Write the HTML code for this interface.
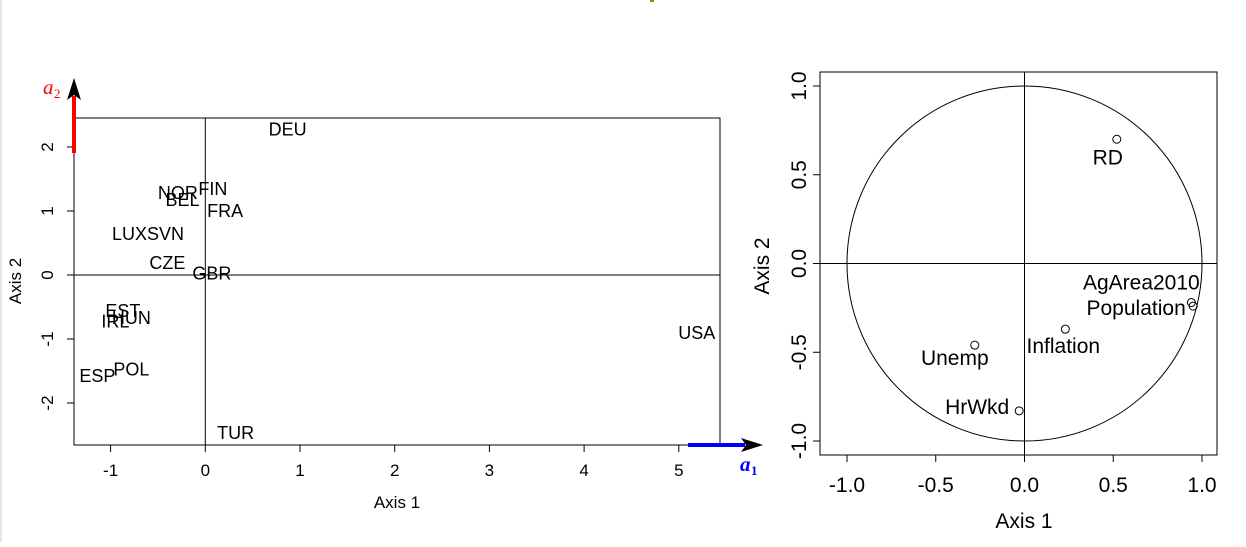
<!DOCTYPE html>
<html><head><meta charset="utf-8"><style>
body{margin:0;background:#fff;width:1246px;height:542px;overflow:hidden;font-family:"Liberation Sans",sans-serif}
</style></head><body>
<svg id="s" width="1246" height="542" font-family="Liberation Sans, sans-serif">
<rect x="0" y="0" width="2" height="542" fill="#e6e6e6"/>
<rect x="650" y="0" width="4" height="2" fill="#66aa00"/>
</svg>
<script>
const countries=["DEU","NOR","FIN","BEL","FRA","LUX","SVN","CZE","GBR","EST","HUN","IRL","POL","ESP","TUR","USA"];
const ax1=[0.87,-0.29,0.08,-0.24,0.21,-0.80,-0.42,-0.40,0.07,-0.87,-0.78,-0.95,-0.78,-1.14,0.32,5.19];
const ax2=[2.27,1.28,1.34,1.17,1.00,0.64,0.64,0.19,0.02,-0.56,-0.67,-0.73,-1.48,-1.58,-2.47,-0.91];
const leftXTicks=[-1,0,1,2,3,4,5];
const leftYTicks=[-2,-1,0,1,2];
const vars=["RD","AgArea2010","Population","Inflation","Unemp","HrWkd"];
const v1=[0.52,0.94,0.95,0.23,-0.28,-0.03];
const v2=[0.70,-0.22,-0.24,-0.37,-0.46,-0.83];
const labelDx=[-9,-50,-57,-2,-20,-42];
const labelDy=[18,-20,2,17,13,-4];
const rightTicks=[-1.0,-0.5,0.0,0.5,1.0];
const tickLabels=["-1.0","-0.5","0.0","0.5","1.0"];

const s=document.getElementById('s');
const NS='http://www.w3.org/2000/svg';
function el(t,a,txt){const e=document.createElementNS(NS,t);for(const k in a)e.setAttribute(k,a[k]);if(txt!==undefined)e.textContent=txt;s.appendChild(e);return e;}
const lx=v=>205.3+v*94.7, ly=v=>275-v*64;
let e=el('rect',{x:74,y:118,width:646,height:327,fill:'none',stroke:'#000'});

el('line',{x1:lx(0),y1:118,x2:lx(0),y2:445,stroke:'#000'});
el('line',{x1:74,y1:ly(0),x2:720,y2:ly(0),stroke:'#000'});
leftXTicks.forEach(v=>{el('line',{x1:lx(v),y1:445,x2:lx(v),y2:452,stroke:'#000'});
 e=el('text',{x:lx(v),y:476,'font-size':17,'text-anchor':'middle'},String(v));
 });
el('line',{x1:lx(-1),y1:445,x2:lx(5),y2:445,stroke:'#000'});
leftYTicks.forEach(v=>{el('line',{x1:74,y1:ly(v),x2:67,y2:ly(v),stroke:'#000'});
 e=el('text',{x:0,y:0,'font-size':17,'text-anchor':'middle',transform:`translate(53,${ly(v)}) rotate(-90)`},String(v));
 });
e=el('text',{x:397,y:508,'font-size':17,'text-anchor':'middle'},'Axis 1');

e=el('text',{x:0,y:0,'font-size':17,'text-anchor':'middle',transform:'translate(21,281) rotate(-90)'},'Axis 2');

countries.forEach((c,i)=>{e=el('text',{x:lx(ax1[i]),y:ly(ax2[i])+6,'font-size':18,'text-anchor':'middle'},c);
 });
el('line',{x1:74,y1:153,x2:74,y2:96,stroke:'red','stroke-width':4});
el('polygon',{points:'74,78 67,100 74,95 81,100',fill:'#000'});
e=el('text',{x:43,y:94,'font-size':21,fill:'red',style:'font-family:"Liberation Serif",serif;font-style:italic'},'a');

el('text',{x:54,y:98,'font-size':13,fill:'red',style:'font-family:"Liberation Serif",serif'},'2');
el('line',{x1:688,y1:445,x2:745,y2:445,stroke:'blue','stroke-width':4});
el('polygon',{points:'763,445 741,438 746,445 741,452',fill:'#000'});
e=el('text',{x:740,y:471,'font-size':21,fill:'blue',style:'font-family:"Liberation Serif",serif;font-style:italic;font-weight:bold'},'a');

el('text',{x:751,y:475,'font-size':13,fill:'blue',style:'font-family:"Liberation Serif",serif;font-weight:bold'},'1');
const rx=v=>1024.5+v*177.5, ry=v=>263.5-v*177.5;
e=el('rect',{x:820,y:72,width:397,height:383,fill:'none',stroke:'#000'});

el('circle',{cx:rx(0),cy:ry(0),r:177.5,fill:'none',stroke:'#000'});
el('line',{x1:rx(0),y1:72,x2:rx(0),y2:455,stroke:'#000'});
el('line',{x1:820,y1:ry(0),x2:1217,y2:ry(0),stroke:'#000'});
el('line',{x1:rx(-1),y1:455,x2:rx(1),y2:455,stroke:'#000'});
el('line',{x1:820,y1:ry(-1),x2:820,y2:ry(1),stroke:'#000'});
rightTicks.forEach((v,i)=>{
 el('line',{x1:rx(v),y1:455,x2:rx(v),y2:462,stroke:'#000'});
 e=el('text',{x:rx(v),y:492,'font-size':21,'text-anchor':'middle'},tickLabels[i]);
 
 el('line',{x1:820,y1:ry(v),x2:813,y2:ry(v),stroke:'#000'});
 e=el('text',{x:0,y:0,'font-size':21,'text-anchor':'middle',transform:`translate(806,${ry(v)}) rotate(-90)`},tickLabels[i]);
 });
e=el('text',{x:1024,y:528,'font-size':21,'text-anchor':'middle'},'Axis 1');

e=el('text',{x:0,y:0,'font-size':21,'text-anchor':'middle',transform:'translate(769,266) rotate(-90)'},'Axis 2');

vars.forEach((v,i)=>{
 e=el('circle',{cx:rx(v1[i]),cy:ry(v2[i]),r:4,fill:'none',stroke:'#000'});
 
 e=el('text',{x:rx(v1[i])+labelDx[i],y:ry(v2[i])+labelDy[i]+7,'font-size':21,'text-anchor':'middle'},v);
 });
</script>
</body></html>
